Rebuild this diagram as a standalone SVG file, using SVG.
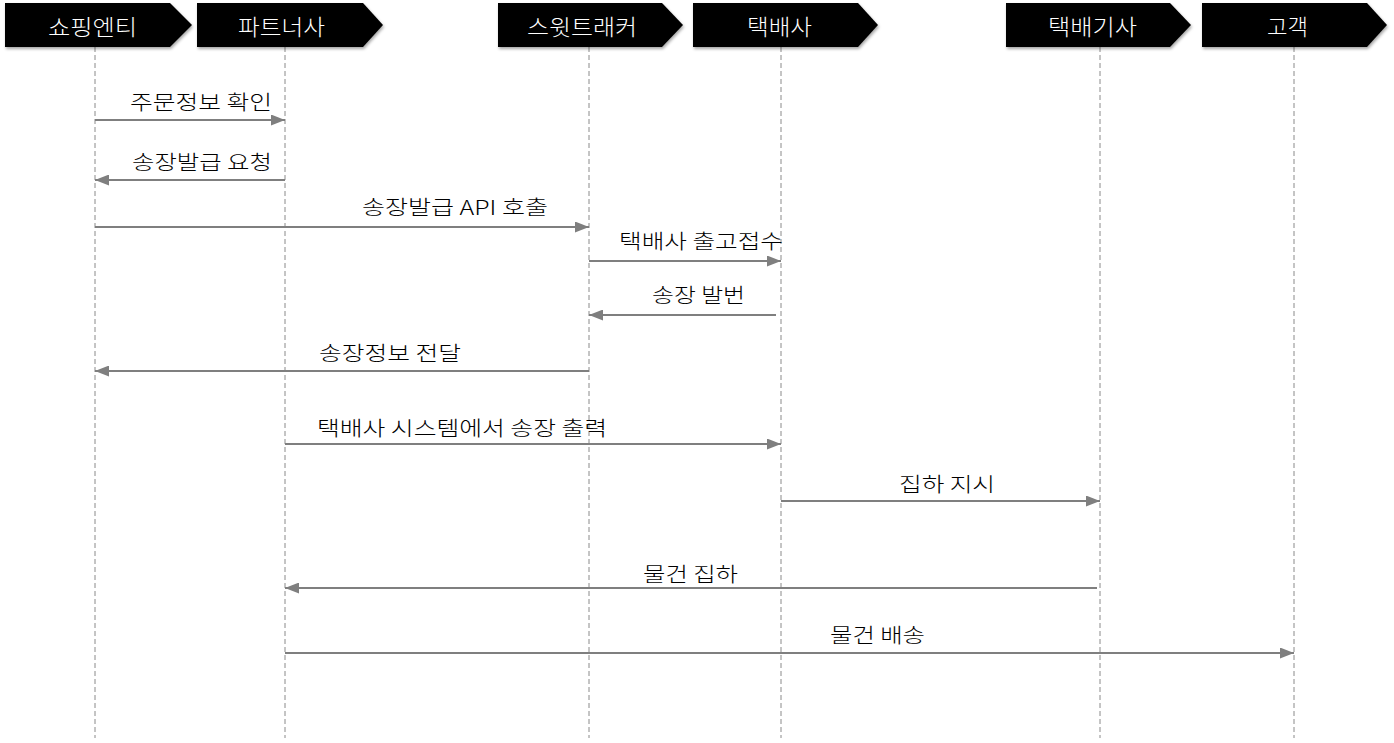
<svg xmlns="http://www.w3.org/2000/svg" width="1394" height="743" viewBox="0 0 1394 743">
<style>
.hdr{fill:#000}
.ht{fill:#fff;font-family:"Noto Sans CJK KR","Noto Sans",sans-serif;font-size:22px;font-weight:300}
.life{stroke:#8a8a8a;stroke-width:1;stroke-dasharray:5 3;fill:none}
.msg{stroke:#7f7f7f;stroke-width:2.2;fill:none}
.lbl{fill:#000;font-family:"Noto Sans CJK KR","Noto Sans",sans-serif;font-size:20px;font-weight:300}
</style>
<defs>
<filter id="sh" x="-10%" y="-20%" width="120%" height="160%">
<feDropShadow dx="1" dy="2" stdDeviation="1.5" flood-color="#000" flood-opacity="0.35"/>
</filter>
<marker id="ah" markerWidth="14" markerHeight="11" refX="14" refY="5.5" orient="auto" markerUnits="userSpaceOnUse">
<path d="M0,0 L14,5.5 L0,11 Z" fill="#7f7f7f"/>
</marker>
</defs>
<rect width="1394" height="743" fill="#fff"/>
<g id="lifelines">
<line class="life" x1="95" y1="47" x2="95" y2="738"/>
<line class="life" x1="285" y1="47" x2="285" y2="738"/>
<line class="life" x1="589" y1="47" x2="589" y2="738"/>
<line class="life" x1="781" y1="47" x2="781" y2="738"/>
<line class="life" x1="1100" y1="47" x2="1100" y2="738"/>
<line class="life" x1="1294" y1="47" x2="1294" y2="738"/>
</g>
<g id="node-shopping">
<polygon class="hdr" filter="url(#sh)" points="5,3 170,3 192,25 170,47 5,47"/>
<text class="ht" x="48" y="35" textLength="89" lengthAdjust="spacingAndGlyphs">쇼핑엔티</text>
</g>
<g id="node-partner">
<polygon class="hdr" filter="url(#sh)" points="197,3 363,3 383,25 363,47 197,47"/>
<text class="ht" x="238" y="35" textLength="87" lengthAdjust="spacingAndGlyphs">파트너사</text>
</g>
<g id="node-sweettracker">
<polygon class="hdr" filter="url(#sh)" points="498,3 662,3 683,25 662,47 498,47"/>
<text class="ht" x="527" y="35" textLength="110" lengthAdjust="spacingAndGlyphs">스윗트래커</text>
</g>
<g id="node-courier">
<polygon class="hdr" filter="url(#sh)" points="693,3 858,3 878,25 858,47 693,47"/>
<text class="ht" x="747" y="35" textLength="65" lengthAdjust="spacingAndGlyphs">택배사</text>
</g>
<g id="node-driver">
<polygon class="hdr" filter="url(#sh)" points="1006,3 1170,3 1191,25 1170,47 1006,47"/>
<text class="ht" x="1048" y="35" textLength="89" lengthAdjust="spacingAndGlyphs">택배기사</text>
</g>
<g id="node-customer">
<polygon class="hdr" filter="url(#sh)" points="1202,3 1367,3 1387,25 1367,47 1202,47"/>
<text class="ht" x="1267" y="35" textLength="41" lengthAdjust="spacingAndGlyphs">고객</text>
</g>
<g id="connectors">
<line class="msg" x1="95" y1="120" x2="285" y2="120" marker-end="url(#ah)"/>
<line class="msg" x1="285" y1="180" x2="95" y2="180" marker-end="url(#ah)"/>
<line class="msg" x1="95" y1="227" x2="589" y2="227" marker-end="url(#ah)"/>
<line class="msg" x1="589" y1="261" x2="781" y2="261" marker-end="url(#ah)"/>
<line class="msg" x1="776" y1="315" x2="589" y2="315" marker-end="url(#ah)"/>
<line class="msg" x1="589" y1="371" x2="95" y2="371" marker-end="url(#ah)"/>
<line class="msg" x1="285" y1="444" x2="781" y2="444" marker-end="url(#ah)"/>
<line class="msg" x1="781" y1="501" x2="1100" y2="501" marker-end="url(#ah)"/>
<line class="msg" x1="1097" y1="588" x2="285" y2="588" marker-end="url(#ah)"/>
<line class="msg" x1="285" y1="653" x2="1294" y2="653" marker-end="url(#ah)"/>
</g>
<g id="labels">
<text class="lbl" x="130" y="110" textLength="142" lengthAdjust="spacingAndGlyphs">주문정보 확인</text>
<text class="lbl" x="132" y="170" textLength="140" lengthAdjust="spacingAndGlyphs">송장발급 요청</text>
<text class="lbl" x="362" y="215" textLength="186" lengthAdjust="spacingAndGlyphs">송장발급 API 호출</text>
<text class="lbl" x="619" y="249" textLength="164" lengthAdjust="spacingAndGlyphs">택배사 출고접수</text>
<text class="lbl" x="652" y="303" textLength="93" lengthAdjust="spacingAndGlyphs">송장 발번</text>
<text class="lbl" x="319" y="361" textLength="142" lengthAdjust="spacingAndGlyphs">송장정보 전달</text>
<text class="lbl" x="317" y="436" textLength="290" lengthAdjust="spacingAndGlyphs">택배사 시스템에서 송장 출력</text>
<text class="lbl" x="899" y="492" textLength="96" lengthAdjust="spacingAndGlyphs">집하 지시</text>
<text class="lbl" x="643" y="582" textLength="95" lengthAdjust="spacingAndGlyphs">물건 집하</text>
<text class="lbl" x="830" y="643" textLength="95" lengthAdjust="spacingAndGlyphs">물건 배송</text>
</g>
</svg>
